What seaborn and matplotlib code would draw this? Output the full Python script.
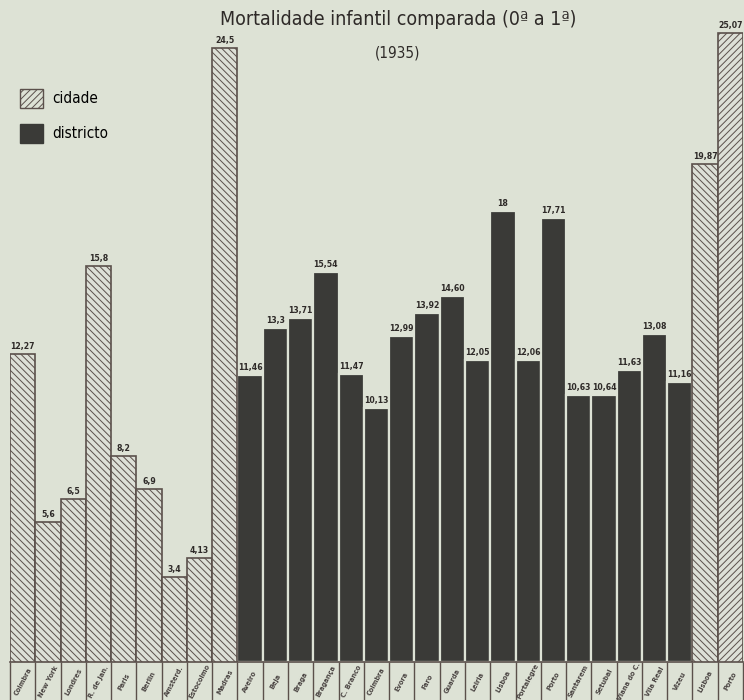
import numpy as np
import pandas as pd
import matplotlib
matplotlib.use("Agg")
import matplotlib.pyplot as plt
import seaborn as sns
from matplotlib.patches import Patch

# ── data ─────────────────────────────────────────────
names = ["Coimbra", "New York", "Londres", "R. de Jan.", "Paris", "Berlin",
         "Amsterd.", "Estocolmo", "Madras",
         "Aveiro", "Beja", "Braga", "Bragança", "C. Branco", "Coimbra", "Evora",
         "Faro", "Guarda", "Leiria", "Lisboa", "Portalegre", "Porto", "Santarem",
         "Setubal", "Viana do C.", "Vila Real", "Vizeu",
         "Lisboa", "Porto"]
values = [12.27, 5.6, 6.5, 15.8, 8.2, 6.9, 3.4, 4.13, 24.5,
          11.46, 13.3, 13.71, 15.54, 11.47, 10.13, 12.99, 13.92, 14.60, 12.05,
          18, 12.06, 17.71, 10.63, 10.64, 11.63, 13.08, 11.16,
          19.87, 25.07]
value_text = ["12,27", "5,6", "6,5", "15,8", "8,2", "6,9", "3,4", "4,13", "24,5",
              "11,46", "13,3", "13,71", "15,54", "11,47", "10,13", "12,99", "13,92",
              "14,60", "12,05", "18", "12,06", "17,71", "10,63", "10,64", "11,63",
              "13,08", "11,16", "19,87", "25,07"]
kind = ["cidade"] * 9 + ["districto"] * 18 + ["cidade"] * 2

df = pd.DataFrame({"key": [f"{i:02d}" for i in range(len(names))],
                   "name": names, "value": values, "kind": kind})

paper = "#dde2d5"
dark = "#3a3a37"
ink = "#5b504b"
narrow = dict(family=["DejaVu Sans", "Liberation Sans"], fontstretch="condensed")

plt.rcParams["hatch.color"] = ink
plt.rcParams["hatch.linewidth"] = 0.7

fig = plt.figure(figsize=(7.44, 7.0), dpi=100, facecolor=paper)
ax = fig.add_axes([10 / 744, 38 / 700, 733 / 744, 662 / 700])
ax.set_facecolor(paper)

sns.barplot(data=df, x="key", y="value", hue="kind", dodge=False, width=1.0,
            palette={"cidade": paper, "districto": dark}, legend=False, ax=ax)

# style each bar by its position on the axis
bars = sorted([p for p in ax.patches if p.get_height() > 0], key=lambda p: p.get_x())
for n, bar in enumerate(bars):
    if kind[n] == "cidade":
        bar.set_hatch("/////" if n == len(bars) - 1 else "\\\\\\\\\\")
        bar.set_edgecolor(ink)
        bar.set_linewidth(1.2)
        bar.set_zorder(3)
    else:
        bar.set_edgecolor(paper)
        bar.set_linewidth(1.6)
        bar.set_zorder(2)

for i, (v, t) in enumerate(zip(values, value_text)):
    ax.text(i, v + 0.12, t, ha="center", va="bottom", fontsize=6.2,
            color="#2e2a28", fontweight="bold", **narrow)

ax.set_ylim(0, 26.4)
ax.set_xlim(-0.5, len(names) - 0.5)
for s in ["top", "right", "left"]:
    ax.spines[s].set_visible(False)
ax.spines["bottom"].set_color(ink)
ax.spines["bottom"].set_linewidth(1.2)
ax.set_yticks([])
ax.set_xlabel(""); ax.set_ylabel("")

# cells under the bars
ax.set_xticks(np.arange(-0.5, len(names)), minor=True)
ax.tick_params(axis="x", which="minor", length=28, width=1.0, color=ink, direction="out")
ax.tick_params(axis="x", which="major", length=0, labelbottom=False)

for i, n in enumerate(names):
    ax.text(i, -0.78, n, rotation=62, ha="center", va="center", fontsize=5.3,
            color="#4a4442", fontweight="bold", clip_on=False, **narrow)

# title
fig.text(0.535, 0.972, "Mortalidade infantil comparada (0ª a 1ª)", ha="center", va="center",
         fontsize=14, color="#2e2a28", **narrow)
fig.text(0.535, 0.925, "(1935)", ha="center", va="center", fontsize=11,
         color="#2e2a28", **narrow)

handles = [Patch(facecolor=paper, edgecolor=ink, hatch="/////", label="cidade"),
           Patch(facecolor=dark, edgecolor=dark, label="districto")]
fig.legend(handles=handles, loc="upper left", bbox_to_anchor=(0.008, 0.893),
           frameon=False, handlelength=1.5, handleheight=1.6,
           labelspacing=1.0, handletextpad=0.6,
           prop={"family": ["DejaVu Sans"], "stretch": "condensed", "size": 11})

fig.savefig("out.png", dpi=100, facecolor=paper)
